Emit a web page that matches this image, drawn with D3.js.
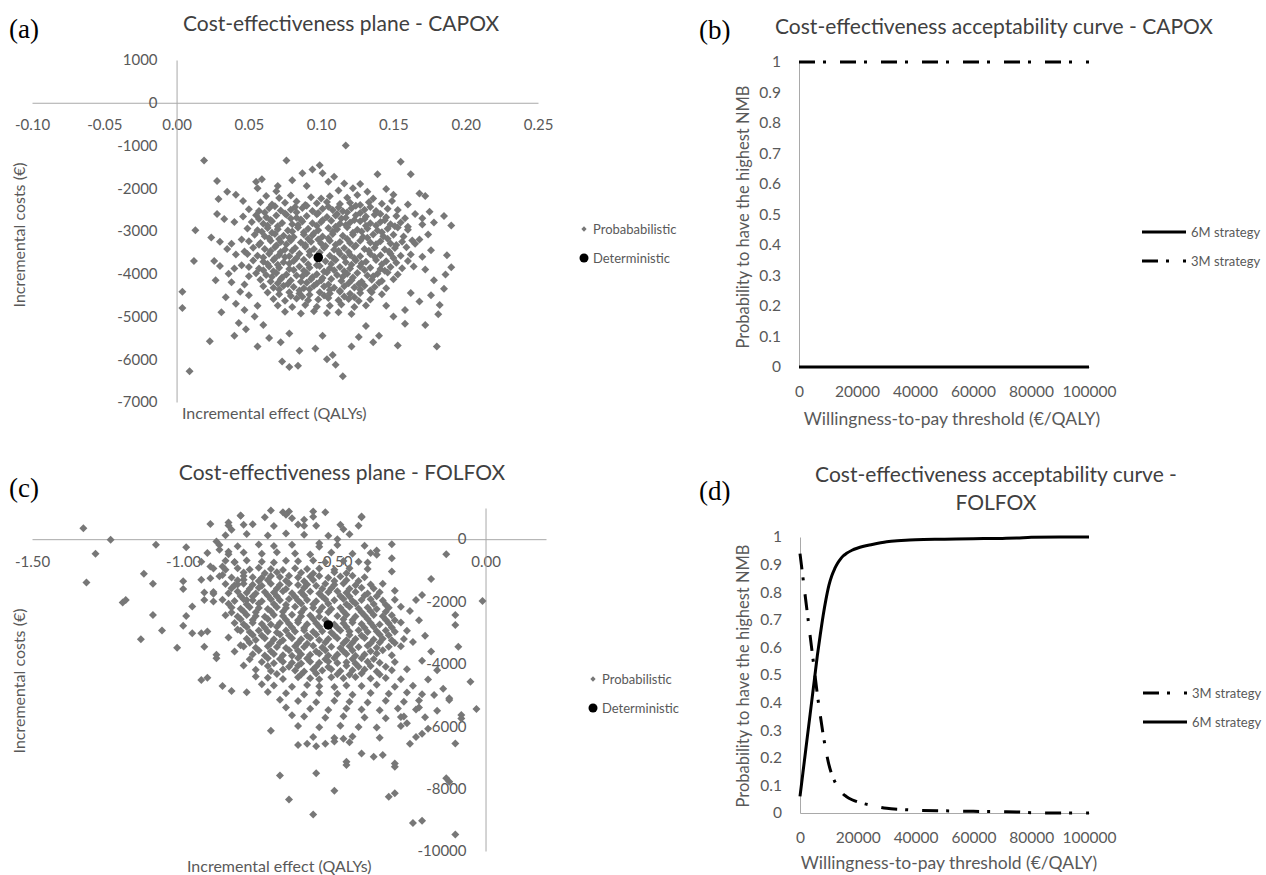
<!DOCTYPE html>
<html lang="en">
<head>
<meta charset="utf-8">
<title>Cost-effectiveness planes and acceptability curves</title>
<script src="https://cdn.jsdelivr.net/npm/d3@7"></script>
<style>
body { margin: 0; background: #fff; }
text { font-family: Lato, "Open Sans", sans-serif; }
</style>
</head>
<body>
<script>

var width = 1266;
var height = 875;

// ---- data ----

// (a) CAPOX: probabilistic iterations [incremental QALYs, incremental cost]
var capoxPsa = [
  [0.117,-1000],[0.019,-1350],[0.076,-1350],[0.155,-1380],[0.094,-1560],[0.099,-1460],[0.101,-1650],[0.109,-1730],
  [0.105,-1850],[0.087,-1650],[0.080,-1810],[0.059,-1790],[0.055,-1850],[0.028,-1830],[0.139,-1670],[0.162,-1670],
  [0.116,-1890],[0.122,-2000],[0.127,-1900],[0.056,-2000],[0.070,-1950],[0.035,-2080],[0.041,-2150],[0.029,-2250],
  [0.046,-2300],[0.069,-2070],[0.090,-1950],[0.112,-2050],[0.132,-2080],[0.145,-2020],[0.150,-2150],[0.168,-2120],
  [0.172,-2180],[0.149,-2300],[0.160,-2380],[0.190,-2870],[0.175,-2550],[0.185,-2650],[0.170,-2700],[0.178,-2800],
  [0.165,-2600],[0.028,-2600],[0.033,-2720],[0.040,-2790],[0.024,-3150],[0.030,-3250],[0.038,-3300],[0.045,-3200],
  [0.035,-3420],[0.041,-3550],[0.047,-3480],[0.026,-3700],[0.030,-3820],[0.040,-3880],[0.045,-3800],[0.036,-4000],
  [0.050,-4060],[0.027,-4150],[0.038,-4200],[0.047,-4250],[0.044,-4420],[0.034,-4550],[0.050,-4500],[0.041,-4700],
  [0.031,-4900],[0.047,-4850],[0.056,-4750],[0.054,-5000],[0.043,-5150],[0.013,-2980],[0.012,-3700],[0.004,-4420],
  [0.004,-4800],[0.009,-6280],[0.023,-5580],[0.040,-5450],[0.048,-5300],[0.060,-5200],[0.064,-5500],[0.056,-5700],
  [0.072,-5600],[0.078,-5400],[0.085,-5800],[0.073,-6050],[0.078,-6180],[0.084,-6150],[0.096,-5750],[0.101,-5450],
  [0.108,-5900],[0.110,-6130],[0.115,-6400],[0.104,-6000],[0.121,-5700],[0.126,-5480],[0.131,-5220],[0.136,-5600],
  [0.140,-5450],[0.153,-5680],[0.158,-5170],[0.172,-5200],[0.180,-5700],[0.181,-4950],[0.186,-4020],[0.187,-3570],
  [0.190,-3850],[0.185,-4350],[0.178,-4150],[0.172,-3900],[0.170,-3600],[0.176,-3450],[0.168,-3200],[0.174,-3080],
  [0.165,-3300],[0.162,-4450],[0.168,-4650],[0.158,-4850],[0.150,-5000],[0.145,-4750],[0.176,-4500],[0.182,-4730],
  [0.160,-2900],[0.170,-2850],
  [0.062,-2180],[0.071,-2230],[0.079,-2170],[0.093,-2210],[0.100,-2240],[0.106,-2190],[0.118,-2220],[0.125,-2160],[0.136,-2240],
  [0.058,-2330],[0.066,-2380],[0.075,-2340],[0.083,-2310],[0.089,-2390],[0.097,-2350],[0.104,-2320],[0.113,-2370],[0.120,-2340],
  [0.127,-2390],[0.133,-2330],[0.142,-2360],
  [0.050,-2490],[0.057,-2530],[0.064,-2470],[0.072,-2520],[0.079,-2500],[0.087,-2460],[0.094,-2530],[0.101,-2480],[0.108,-2510],
  [0.115,-2540],[0.121,-2470],[0.130,-2500],[0.138,-2530],[0.146,-2480],[0.153,-2510],
  [0.046,-2660],[0.055,-2630],[0.062,-2680],[0.069,-2640],[0.076,-2620],[0.083,-2690],[0.090,-2650],[0.097,-2610],[0.104,-2670],
  [0.110,-2640],[0.117,-2690],[0.124,-2630],[0.131,-2660],[0.137,-2620],[0.145,-2680],[0.152,-2650],[0.158,-2700],
  [0.052,-2790],[0.060,-2830],[0.066,-2770],[0.073,-2810],[0.080,-2840],[0.087,-2780],[0.094,-2820],[0.100,-2790],[0.107,-2760],
  [0.113,-2830],[0.120,-2800],[0.127,-2770],[0.134,-2820],[0.141,-2790],[0.148,-2840],[0.155,-2800],
  [0.049,-2940],[0.056,-2980],[0.063,-2930],[0.070,-2960],[0.077,-2990],[0.084,-2920],[0.091,-2950],[0.098,-2980],[0.105,-2930],
  [0.111,-2960],[0.118,-2910],[0.125,-2970],[0.132,-2940],[0.139,-2990],[0.146,-2950],[0.153,-2920],[0.160,-2970],
  [0.054,-3090],[0.061,-3120],[0.068,-3070],[0.074,-3110],[0.081,-3140],[0.088,-3080],[0.094,-3100],[0.101,-3130],[0.108,-3070],
  [0.115,-3110],[0.122,-3090],[0.129,-3140],[0.136,-3080],[0.143,-3120],[0.150,-3090],[0.157,-3130],
  [0.050,-3240],[0.058,-3280],[0.065,-3230],[0.072,-3260],[0.079,-3220],[0.086,-3270],[0.093,-3250],[0.100,-3290],[0.106,-3230],
  [0.113,-3260],[0.120,-3280],[0.127,-3230],[0.134,-3270],[0.141,-3240],[0.148,-3290],[0.156,-3250],[0.163,-3220],
  [0.053,-3390],[0.061,-3420],[0.068,-3380],[0.075,-3430],[0.082,-3400],[0.089,-3370],[0.095,-3420],[0.102,-3390],[0.109,-3440],
  [0.116,-3400],[0.123,-3370],[0.130,-3420],[0.137,-3390],[0.144,-3430],[0.151,-3400],[0.159,-3380],
  [0.049,-3540],[0.056,-3580],[0.064,-3530],[0.071,-3560],[0.078,-3590],[0.085,-3530],[0.092,-3560],[0.106,-3580],[0.113,-3530],
  [0.120,-3560],[0.127,-3590],[0.134,-3540],[0.141,-3570],[0.148,-3530],[0.155,-3580],[0.162,-3550],
  [0.053,-3690],[0.060,-3720],[0.067,-3680],[0.074,-3730],[0.081,-3700],[0.088,-3670],[0.103,-3710],[0.110,-3680],[0.117,-3730],
  [0.124,-3690],[0.131,-3720],[0.138,-3680],[0.145,-3710],[0.152,-3740],[0.160,-3700],
  [0.050,-3840],[0.057,-3880],[0.064,-3830],[0.071,-3860],[0.078,-3890],[0.085,-3830],[0.092,-3860],[0.099,-3820],[0.106,-3870],
  [0.113,-3840],[0.120,-3880],[0.127,-3830],[0.134,-3860],[0.141,-3890],[0.148,-3840],[0.156,-3870],[0.164,-3830],
  [0.055,-3990],[0.062,-4030],[0.069,-3980],[0.076,-4020],[0.083,-4040],[0.090,-3990],[0.097,-4010],[0.104,-3970],[0.111,-4030],
  [0.118,-4000],[0.125,-3980],[0.132,-4040],[0.139,-4000],[0.146,-3970],[0.153,-4020],
  [0.058,-4140],[0.065,-4180],[0.072,-4130],[0.079,-4160],[0.086,-4190],[0.093,-4130],[0.100,-4160],[0.107,-4120],[0.114,-4170],
  [0.121,-4150],[0.128,-4190],[0.135,-4140],[0.142,-4170],[0.150,-4130],
  [0.060,-4290],[0.067,-4330],[0.074,-4280],[0.081,-4310],[0.088,-4340],[0.095,-4280],[0.102,-4300],[0.109,-4330],[0.116,-4290],
  [0.123,-4320],[0.130,-4280],[0.137,-4310],[0.145,-4340],
  [0.063,-4440],[0.071,-4480],[0.078,-4430],[0.085,-4460],[0.092,-4490],[0.099,-4430],[0.106,-4460],[0.113,-4420],[0.120,-4470],
  [0.127,-4450],[0.135,-4430],[0.142,-4480],
  [0.067,-4590],[0.075,-4630],[0.083,-4580],[0.091,-4620],[0.098,-4600],[0.105,-4570],[0.112,-4620],[0.119,-4590],[0.126,-4640],[0.134,-4600],
  [0.070,-4740],[0.080,-4780],[0.089,-4730],[0.097,-4770],[0.106,-4750],[0.114,-4720],[0.123,-4780],[0.131,-4740],
  [0.075,-4890],[0.086,-4930],[0.095,-4880],[0.104,-4920],[0.112,-4900],[0.121,-4940],
  // denser centre of the cloud
  [0.068,-2420],[0.082,-2440],[0.090,-2410],[0.105,-2430],[0.112,-2450],[0.124,-2410],[0.134,-2440],
  [0.061,-2570],[0.075,-2590],[0.083,-2560],[0.098,-2580],[0.111,-2600],[0.118,-2560],[0.127,-2580],[0.141,-2600],
  [0.057,-2720],[0.065,-2740],[0.079,-2710],[0.086,-2730],[0.101,-2750],[0.114,-2710],[0.123,-2740],[0.130,-2720],[0.144,-2750],
  [0.063,-2870],[0.070,-2890],[0.084,-2860],[0.097,-2880],[0.110,-2900],[0.117,-2860],[0.131,-2880],[0.138,-2870],[0.151,-2890],
  [0.059,-3020],[0.066,-3040],[0.080,-3010],[0.088,-3030],[0.095,-3050],[0.108,-3020],[0.122,-3040],[0.128,-3010],[0.142,-3030],
  [0.064,-3170],[0.071,-3190],[0.078,-3160],[0.091,-3180],[0.098,-3200],[0.105,-3170],[0.118,-3190],[0.132,-3160],[0.146,-3180],
  [0.057,-3320],[0.069,-3340],[0.076,-3310],[0.089,-3330],[0.103,-3350],[0.110,-3320],[0.124,-3340],[0.138,-3310],[0.152,-3330],
  [0.065,-3470],[0.072,-3490],[0.080,-3460],[0.092,-3480],[0.099,-3500],[0.112,-3470],[0.119,-3490],[0.133,-3460],[0.147,-3480],
  [0.060,-3620],[0.068,-3640],[0.075,-3610],[0.083,-3630],[0.109,-3650],[0.116,-3620],[0.123,-3640],[0.137,-3610],[0.150,-3630],
  [0.063,-3770],[0.070,-3790],[0.078,-3760],[0.091,-3780],[0.097,-3800],[0.107,-3770],[0.121,-3790],[0.128,-3760],[0.142,-3780],
  [0.060,-3920],[0.067,-3940],[0.081,-3910],[0.088,-3930],[0.102,-3950],[0.109,-3920],[0.116,-3940],[0.130,-3910],[0.144,-3930],
  [0.066,-4070],[0.073,-4090],[0.087,-4060],[0.094,-4080],[0.101,-4100],[0.115,-4070],[0.122,-4090],[0.136,-4060],
  [0.070,-4220],[0.077,-4240],[0.090,-4210],[0.097,-4230],[0.105,-4250],[0.119,-4220],[0.126,-4240],[0.140,-4210],
  [0.071,-4370],[0.085,-4390],[0.092,-4360],[0.106,-4380],[0.113,-4400],[0.127,-4370],[0.134,-4390],
  [0.079,-4520],[0.087,-4540],[0.102,-4510],[0.116,-4530],[0.123,-4550]
];
var capoxBase = [0.098, -3620];

// (c) FOLFOX: probabilistic iterations [incremental QALYs, incremental cost]
var folfoxPsa = [
  [-1.33,350],[-1.24,-20],[-1.29,-470],[-1.32,-1390],[-1.20,-2030],[-1.19,-1950],[-1.13,-1110],[-1.10,-1430],[-1.09,-180],
  [-1.10,-2430],[-1.07,-2930],[-1.14,-3210],[-1.02,-3480],[-0.99,-260],[-1.00,-1350],[-1.00,-1600],[-0.97,-2160],[-0.99,-2460],
  [-1.00,-2780],[-0.97,-3020],[-0.94,-3020],[-0.92,-2960],[-0.93,-3450],[-0.94,-4520],[-0.92,-4440],[-0.87,-4710],[-0.84,-4870],
  [-0.79,-4910],[-0.89,-3710],[-0.89,-3820],
  [-0.91,490],[-0.85,535],[-0.84,300],[-0.81,750],[-0.80,460],[-0.89,-75],[-0.88,-340],[-0.85,-400],[-0.94,-720],[-0.91,-880],
  [-0.87,-880],[-0.83,-740],[-0.94,-1300],[-0.91,-1250],[-0.87,-1145],[-0.93,-1710],[-0.90,-1750],[-0.93,-1950],[-0.90,-2000],
  [-0.71,920],[-0.67,860],[-0.65,890],[-0.57,890],[-0.53,860],[-0.41,730],[-0.42,430],[-0.47,320],[-0.49,0],[-0.55,-130],
  [-0.60,430],[-0.60,620],[-0.64,670],
  [-0.31,-160],[-0.13,-480],[-0.31,-610],[-0.36,-360],[-0.36,-500],[-0.39,-750],[-0.31,-1040],[-0.18,-1280],[-0.30,-1650],
  [-0.23,-1950],[-0.21,-1790],[-0.10,-2430],[-0.01,-1980],[-0.10,-2750],[-0.09,-3450],[-0.05,-4570],[-0.03,-5450],[-0.08,-5640],
  [-0.08,-5750],[-0.12,-5160],[-0.10,-6550],[-0.13,-7670],[-0.12,-7780],
  [-0.25,-2300],[-0.22,-2600],[-0.20,-3100],[-0.24,-3300],[-0.18,-3600],[-0.21,-3900],[-0.16,-4200],[-0.19,-4500],[-0.14,-4800],
  [-0.17,-5000],[-0.22,-5400],
  [-0.30,-8150],[-0.32,-8260],[-0.21,-9030],[-0.24,-9100],[-0.10,-9470],[-0.46,-7240],[-0.46,-7140],[-0.50,-8070],[-0.56,-7510],
  [-0.57,-8830],[-0.65,-8350],[-0.68,-7580],[-0.71,-6140],[-0.30,-7300],[-0.30,-7190],[-0.41,-6870],[-0.37,-6980],[-0.34,-6920],
  [-0.62,-6600],[-0.59,-6560],[-0.56,-6640],[-0.53,-6560],[-0.50,-6490],[-0.47,-6400],[-0.45,-6510],[-0.25,-6560],[-0.23,-6340],
  [-0.21,-6240],[-0.19,-6080],[-0.28,-5700],[-0.26,-5900],[-0.16,-5500],[-0.12,-5100],
  [-0.82,-1450],[-0.80,-1300],[-0.79,-1950],[-0.84,-2350],[-0.82,-2900],[-0.85,-3150],[-0.81,-3400],[-0.83,-3600],[-0.78,-3850],
  [-0.80,-4050],[-0.76,-4400],[-0.74,-4650],[-0.72,-4900],[-0.68,-5150],[-0.66,-5400],[-0.64,-5650],
  [-0.81,760],[-0.73,700],[-0.66,780],[-0.57,720],[-0.41,700],
  [-0.85,440],[-0.77,480],[-0.70,420],[-0.62,470],[-0.56,430],[-0.48,460],
  [-0.86,130],[-0.79,170],[-0.72,120],[-0.66,180],[-0.60,140],[-0.52,110],[-0.45,160],
  [-0.88,-190],[-0.82,-230],[-0.75,-170],[-0.70,-220],[-0.64,-180],[-0.55,-240],[-0.49,-190],[-0.40,-210],
  [-0.92,-440],[-0.85,-480],[-0.80,-430],[-0.74,-470],[-0.69,-420],[-0.63,-460],[-0.58,-490],[-0.51,-430],[-0.44,-470],[-0.38,-440],
  [-0.86,-690],[-0.83,-730],[-0.79,-680],[-0.74,-720],[-0.70,-750],[-0.66,-690],[-0.62,-710],[-0.57,-680],[-0.53,-740],[-0.47,-700],[-0.42,-720],
  [-0.90,-940],[-0.86,-980],[-0.82,-930],[-0.78,-970],[-0.75,-920],[-0.71,-960],[-0.67,-990],[-0.63,-930],[-0.59,-960],[-0.55,-940],
  [-0.50,-980],[-0.45,-930],[-0.39,-960],
  [-0.88,-1190],[-0.84,-1230],[-0.80,-1180],[-0.77,-1220],[-0.74,-1240],[-0.71,-1180],[-0.68,-1210],[-0.65,-1170],[-0.62,-1230],
  [-0.58,-1200],[-0.55,-1180],[-0.52,-1240],[-0.48,-1200],[-0.44,-1170],[-0.40,-1220],
  [-0.86,-1440],[-0.83,-1480],[-0.80,-1430],[-0.77,-1460],[-0.74,-1490],[-0.71,-1430],[-0.68,-1460],[-0.65,-1420],[-0.62,-1470],
  [-0.59,-1450],[-0.56,-1490],[-0.53,-1430],[-0.50,-1460],[-0.47,-1420],[-0.43,-1480],[-0.38,-1450],[-0.34,-1430],
  [-0.90,-1690],[-0.85,-1730],[-0.82,-1680],[-0.79,-1720],[-0.76,-1740],[-0.73,-1690],[-0.70,-1710],[-0.67,-1670],[-0.64,-1730],
  [-0.61,-1700],[-0.58,-1680],[-0.55,-1740],[-0.52,-1700],[-0.49,-1670],[-0.46,-1720],[-0.43,-1690],[-0.39,-1740],[-0.35,-1700],
  [-0.87,-1940],[-0.83,-1980],[-0.80,-1930],[-0.77,-1960],[-0.74,-1990],[-0.71,-1930],[-0.68,-1960],[-0.65,-1920],[-0.62,-1970],
  [-0.59,-1950],[-0.56,-1990],[-0.53,-1930],[-0.50,-1960],[-0.47,-1920],[-0.44,-1980],[-0.41,-1950],[-0.38,-1930],[-0.34,-1970],[-0.30,-1940],
  [-0.84,-2190],[-0.81,-2230],[-0.78,-2180],[-0.75,-2210],[-0.72,-2240],[-0.69,-2180],[-0.66,-2210],[-0.63,-2170],[-0.60,-2230],
  [-0.57,-2200],[-0.54,-2180],[-0.51,-2240],[-0.48,-2200],[-0.45,-2170],[-0.42,-2220],[-0.39,-2190],[-0.36,-2240],[-0.32,-2200],[-0.28,-2170],
  [-0.86,-2440],[-0.82,-2480],[-0.79,-2430],[-0.76,-2460],[-0.73,-2490],[-0.70,-2430],[-0.67,-2460],[-0.64,-2420],[-0.61,-2470],
  [-0.58,-2450],[-0.55,-2490],[-0.49,-2460],[-0.46,-2420],[-0.43,-2480],[-0.40,-2450],[-0.37,-2430],[-0.34,-2470],[-0.31,-2440],
  [-0.83,-2690],[-0.80,-2730],[-0.77,-2680],[-0.74,-2720],[-0.71,-2740],[-0.68,-2690],[-0.65,-2710],[-0.62,-2670],[-0.59,-2730],
  [-0.56,-2700],[-0.50,-2740],[-0.47,-2700],[-0.44,-2670],[-0.41,-2720],[-0.38,-2690],[-0.35,-2740],[-0.32,-2700],[-0.28,-2670],
  [-0.81,-2940],[-0.78,-2980],[-0.75,-2930],[-0.72,-2960],[-0.69,-2990],[-0.66,-2930],[-0.63,-2960],[-0.60,-2920],[-0.57,-2970],
  [-0.54,-2950],[-0.51,-2990],[-0.48,-2930],[-0.45,-2960],[-0.42,-2920],[-0.39,-2980],[-0.36,-2950],[-0.33,-2930],[-0.30,-2970],[-0.26,-2940],
  [-0.79,-3190],[-0.76,-3230],[-0.73,-3180],[-0.70,-3210],[-0.67,-3240],[-0.64,-3180],[-0.61,-3210],[-0.58,-3170],[-0.55,-3230],
  [-0.52,-3200],[-0.49,-3180],[-0.46,-3240],[-0.43,-3200],[-0.40,-3170],[-0.37,-3220],[-0.34,-3190],[-0.31,-3240],[-0.27,-3200],
  [-0.80,-3440],[-0.76,-3480],[-0.72,-3430],[-0.69,-3460],[-0.66,-3490],[-0.63,-3430],[-0.60,-3460],[-0.57,-3420],[-0.54,-3470],
  [-0.51,-3450],[-0.48,-3490],[-0.45,-3430],[-0.42,-3460],[-0.39,-3420],[-0.36,-3480],[-0.32,-3450],[-0.28,-3430],
  [-0.77,-3690],[-0.73,-3730],[-0.70,-3680],[-0.67,-3720],[-0.64,-3740],[-0.61,-3690],[-0.58,-3710],[-0.55,-3670],[-0.52,-3730],
  [-0.49,-3700],[-0.46,-3680],[-0.43,-3740],[-0.40,-3700],[-0.36,-3670],[-0.31,-3720],
  [-0.74,-3940],[-0.70,-3980],[-0.67,-3930],[-0.64,-3960],[-0.61,-3990],[-0.58,-3930],[-0.55,-3960],[-0.52,-3920],[-0.49,-3970],
  [-0.46,-3950],[-0.43,-3990],[-0.39,-3930],[-0.35,-3960],[-0.30,-3940],
  [-0.76,-4190],[-0.71,-4230],[-0.67,-4180],[-0.63,-4210],[-0.60,-4240],[-0.57,-4180],[-0.54,-4210],[-0.51,-4170],[-0.48,-4230],
  [-0.44,-4200],[-0.40,-4180],[-0.36,-4240],[-0.31,-4200],[-0.26,-4170],
  [-0.72,-4440],[-0.67,-4480],[-0.62,-4430],[-0.58,-4460],[-0.55,-4490],[-0.51,-4430],[-0.47,-4460],[-0.43,-4420],[-0.38,-4470],
  [-0.33,-4450],[-0.28,-4490],
  [-0.70,-4690],[-0.64,-4730],[-0.59,-4680],[-0.55,-4720],[-0.50,-4740],[-0.46,-4690],[-0.41,-4710],[-0.36,-4670],[-0.30,-4730],[-0.24,-4700],
  [-0.66,-4940],[-0.60,-4980],[-0.55,-4930],[-0.49,-4960],[-0.44,-4990],[-0.38,-4930],[-0.32,-4960],[-0.26,-4920],[-0.21,-4970],
  [-0.62,-5190],[-0.56,-5230],[-0.50,-5180],[-0.45,-5210],[-0.39,-5240],[-0.33,-5180],[-0.27,-5210],[-0.22,-5170],
  [-0.58,-5440],[-0.52,-5480],[-0.46,-5430],[-0.41,-5460],[-0.35,-5490],[-0.29,-5430],[-0.23,-5460],
  [-0.60,-5690],[-0.53,-5730],[-0.47,-5680],[-0.40,-5720],[-0.33,-5740],[-0.27,-5690],[-0.20,-5710],
  [-0.62,-5990],[-0.55,-6030],[-0.48,-5980],[-0.42,-6020],[-0.36,-6040],[-0.28,-5990],
  [-0.57,-6340],[-0.50,-6380],[-0.44,-6330],[-0.35,-6370],
  // denser centre of the cloud
  [-0.80,-1070],[-0.73,-1090],[-0.69,-1060],[-0.61,-1080],[-0.57,-1100],[-0.50,-1060],[-0.46,-1090],
  [-0.82,-1320],[-0.75,-1340],[-0.72,-1310],[-0.66,-1330],[-0.60,-1350],[-0.57,-1310],[-0.50,-1340],[-0.46,-1320],[-0.42,-1340],
  [-0.84,-1570],[-0.78,-1590],[-0.75,-1560],[-0.69,-1580],[-0.66,-1600],[-0.60,-1560],[-0.54,-1590],[-0.51,-1570],[-0.45,-1590],[-0.41,-1560],[-0.37,-1580],
  [-0.81,-1820],[-0.77,-1840],[-0.72,-1810],[-0.69,-1830],[-0.63,-1850],[-0.60,-1810],[-0.54,-1840],[-0.48,-1820],[-0.45,-1840],[-0.40,-1810],[-0.36,-1830],
  [-0.85,-2070],[-0.79,-2090],[-0.75,-2060],[-0.70,-2080],[-0.66,-2100],[-0.61,-2060],[-0.57,-2090],[-0.52,-2070],[-0.46,-2090],[-0.43,-2060],[-0.37,-2080],[-0.33,-2100],
  [-0.80,-2320],[-0.76,-2340],[-0.71,-2310],[-0.67,-2330],[-0.61,-2350],[-0.55,-2310],[-0.52,-2340],[-0.47,-2320],[-0.41,-2340],[-0.38,-2310],[-0.33,-2330],
  [-0.81,-2570],[-0.77,-2590],[-0.72,-2560],[-0.66,-2580],[-0.62,-2600],[-0.57,-2560],[-0.53,-2590],[-0.47,-2570],[-0.44,-2590],[-0.39,-2560],[-0.33,-2580],[-0.30,-2600],
  [-0.79,-2820],[-0.73,-2840],[-0.69,-2810],[-0.64,-2830],[-0.60,-2850],[-0.55,-2810],[-0.49,-2840],[-0.46,-2820],[-0.40,-2840],[-0.37,-2810],[-0.31,-2830],
  [-0.77,-3070],[-0.74,-3090],[-0.68,-3060],[-0.65,-3080],[-0.59,-3100],[-0.56,-3060],[-0.50,-3090],[-0.45,-3070],[-0.41,-3090],[-0.35,-3060],[-0.32,-3080],
  [-0.78,-3320],[-0.71,-3340],[-0.68,-3310],[-0.62,-3330],[-0.59,-3350],[-0.53,-3310],[-0.47,-3340],[-0.44,-3320],[-0.38,-3340],[-0.35,-3310],[-0.30,-3330],
  [-0.75,-3570],[-0.71,-3590],[-0.65,-3560],[-0.62,-3580],[-0.56,-3600],[-0.53,-3560],[-0.47,-3590],[-0.44,-3570],[-0.38,-3590],[-0.34,-3560],
  [-0.72,-3820],[-0.68,-3840],[-0.62,-3810],[-0.59,-3830],[-0.53,-3850],[-0.50,-3810],[-0.44,-3840],[-0.41,-3820],[-0.37,-3840],
  [-0.72,-4070],[-0.65,-4090],[-0.62,-4060],[-0.56,-4080],[-0.52,-4100],[-0.46,-4060],[-0.42,-4090],[-0.38,-4070],[-0.33,-4090],
  [-0.69,-4320],[-0.61,-4340],[-0.56,-4310],[-0.49,-4330],[-0.45,-4350],[-0.41,-4310],[-0.35,-4340]
];
var folfoxBase = [-0.52, -2750];

// (b) CAPOX acceptability curve
var capoxWtp = [0, 10000, 20000, 30000, 40000, 50000, 60000, 70000, 80000, 90000, 100000];
var capox6M = [0, 0, 0, 0, 0, 0, 0, 0, 0, 0, 0];
var capox3M = [1, 1, 1, 1, 1, 1, 1, 1, 1, 1, 1];

// (d) FOLFOX acceptability curve
var folfoxWtp = [0, 1000, 2000, 3000, 4000, 5000, 6000, 7000, 8000, 9000, 10000, 11000, 12000, 13000, 14000,
                 15000, 16000, 18000, 20000, 25000, 30000, 35000, 40000, 50000, 60000, 70000, 75000, 80000, 90000, 100000];
var folfox6M = [0.06, 0.145, 0.23, 0.315, 0.40, 0.485, 0.57, 0.645, 0.715, 0.775, 0.825, 0.86, 0.885, 0.905, 0.92,
                0.932, 0.94, 0.952, 0.96, 0.973, 0.983, 0.987, 0.99, 0.992, 0.994, 0.995, 0.996, 0.999, 1, 1];
var folfox3M = [0.94, 0.855, 0.77, 0.685, 0.60, 0.515, 0.43, 0.355, 0.285, 0.225, 0.175, 0.14, 0.115, 0.095, 0.08,
                0.068, 0.06, 0.048, 0.04, 0.027, 0.017, 0.013, 0.01, 0.008, 0.006, 0.005, 0.004, 0.001, 0, 0];

var planeXTicksA = [-0.10, -0.05, 0, 0.05, 0.10, 0.15, 0.20, 0.25];
var planeYTicksA = [1000, 0, -1000, -2000, -3000, -4000, -5000, -6000, -7000];
var planeXTicksC = [-1.5, -1.0, -0.5, 0];
var planeYTicksC = [0, -2000, -4000, -6000, -8000, -10000];
var ceacXTicks = [0, 20000, 40000, 60000, 80000, 100000];
var ceacYTicks = [0, 0.1, 0.2, 0.3, 0.4, 0.5, 0.6, 0.7, 0.8, 0.9, 1];

// ---- drawing ----

var axisGrey = "#a9a9a9";
var labelGrey = "#595959";
var titleGrey = "#404040";
var pointGrey = "#777777";
var dashDot = "16,8,3,14";

var svg = d3.select("body").append("svg")
            .attr("width", width)
            .attr("height", height);

svg.append("rect").attr("width", width).attr("height", height).attr("fill", "#fff");

function styleAxis(a, size) {
  a.select(".domain").attr("stroke", axisGrey);
  a.selectAll("text").attr("fill", labelGrey).style("font-size", size + "px");
}

function panelLetter(txt, x, y) {
  svg.append("text")
     .attr("x", x).attr("y", y).attr("dy", "0.35em")
     .style("font-family", "'Liberation Serif', 'DejaVu Serif', serif")
     .style("font-size", "27px")
     .attr("fill", "#000")
     .text(txt);
}

function title(lines, cx, y) {
  var t = svg.append("text")
             .attr("text-anchor", "middle")
             .attr("fill", titleGrey)
             .style("font-size", "21px");
  lines.forEach(function(l, i) {
    t.append("tspan").attr("x", cx).attr("y", y + i * 28).attr("dy", "0.35em").text(l);
  });
}

function axisTitle(txt, x, y, rotate, anchor, size) {
  svg.append("text")
     .attr("transform", "translate(" + x + "," + y + ")" + (rotate ? " rotate(-90)" : ""))
     .attr("text-anchor", anchor)
     .attr("dy", "0.35em")
     .attr("fill", labelGrey)
     .style("font-size", size + "px")
     .text(txt);
}

function drawPlane(o) {
  var x = d3.scaleLinear().domain(o.xDomain).range(o.xRange);
  var y = d3.scaleLinear().domain(o.yDomain).range(o.yRange);
  var g = svg.append("g");

  var xa = g.append("g")
            .attr("transform", "translate(0," + y(0) + ")")
            .call(d3.axisBottom(x).tickValues(o.xTicks)
                    .tickFormat(function(d) { return d.toFixed(2); })
                    .tickSize(0).tickPadding(17));
  var ya = g.append("g")
            .attr("transform", "translate(" + x(0) + ",0)")
            .call(d3.axisLeft(y).tickValues(o.yTicks)
                    .tickFormat(function(d) { return String(d); })
                    .tickSize(0).tickPadding(19));
  styleAxis(xa, 15);
  styleAxis(ya, 15);

  var diamond = d3.symbol().type(d3.symbolSquare).size(32);
  g.append("g").selectAll("path")
   .data(o.points)
   .enter()
   .append("path")
   .attr("d", diamond)
   .attr("transform", function(d) { return "translate(" + x(d[0]) + "," + y(d[1]) + ") rotate(45)"; })
   .attr("fill", pointGrey);

  g.append("circle")
   .attr("cx", x(o.base[0])).attr("cy", y(o.base[1])).attr("r", 4.8)
   .attr("fill", "#000");

  // legend
  var lg = svg.append("g").attr("transform", "translate(" + o.legend[0] + "," + o.legend[1] + ")");
  lg.append("path").attr("d", d3.symbol().type(d3.symbolSquare).size(14))
    .attr("transform", "rotate(45)").attr("fill", pointGrey);
  lg.append("circle").attr("cy", 29).attr("r", 4.5).attr("fill", "#000");
  lg.selectAll("text")
    .data(o.legendLabels)
    .enter()
    .append("text")
    .attr("x", 9).attr("y", function(d, i) { return i * 29; }).attr("dy", "0.35em")
    .attr("fill", labelGrey)
    .style("font-size", "13px")
    .text(function(d) { return d; });
}

function drawCeac(o) {
  var x = d3.scaleLinear().domain([0, 100000]).range(o.xRange);
  var y = d3.scaleLinear().domain([0, 1]).range(o.yRange);
  var g = svg.append("g");

  var xa = g.append("g")
            .attr("transform", "translate(0," + o.yRange[0] + ")")
            .call(d3.axisBottom(x).tickValues(ceacXTicks)
                    .tickFormat(function(d) { return String(d); })
                    .tickSize(0).tickPadding(19));
  var ya = g.append("g")
            .attr("transform", "translate(" + o.xRange[0] + ",0)")
            .call(d3.axisLeft(y).tickValues(ceacYTicks)
                    .tickFormat(function(d) { return (d === 0 || d === 1) ? String(d) : d.toFixed(1); })
                    .tickSize(0).tickPadding(18));
  styleAxis(xa, 15.5);
  styleAxis(ya, 15.5);

  var line = d3.line()
               .x(function(d) { return x(d[0]); })
               .y(function(d) { return y(d[1]); })
               .curve(d3.curveMonotoneX);

  o.series.forEach(function(s) {
    g.append("path")
     .datum(o.wtp.map(function(w, i) { return [w, s.values[i]]; }))
     .attr("d", line)
     .attr("fill", "none")
     .attr("stroke", "#000")
     .attr("stroke-width", 3)
     .attr("stroke-dasharray", s.dashed ? dashDot : null);
  });

  var lg = svg.append("g").attr("transform", "translate(" + o.legend[0] + "," + o.legend[1] + ")");
  var items = lg.selectAll("g")
                .data(o.legendOrder)
                .enter()
                .append("g")
                .attr("transform", function(d, i) { return "translate(0," + i * 29 + ")"; });
  items.append("line")
       .attr("x1", 0).attr("x2", 44)
       .attr("stroke", "#000").attr("stroke-width", 3)
       .attr("stroke-dasharray", function(d) { return d.dashed ? dashDot : null; });
  items.append("text")
       .attr("x", 49).attr("dy", "0.35em")
       .attr("fill", labelGrey)
       .style("font-size", "13px")
       .text(function(d) { return d.name; });
}

// panel (a)
panelLetter("(a)", 9, 29);
title(["Cost-effectiveness plane - CAPOX"], 341, 24);
drawPlane({
  xDomain: [-0.10, 0.25], xRange: [32, 538],
  yDomain: [-7000, 1000], yRange: [402, 60],
  xTicks: planeXTicksA, yTicks: planeYTicksA,
  points: capoxPsa, base: capoxBase,
  legend: [584, 229], legendLabels: ["Probababilistic", "Deterministic"]
});
axisTitle("Incremental costs (€)", 19, 235, true, "middle", 16);
axisTitle("Incremental effect (QALYs)", 182, 413, false, "start", 16);

// panel (b)
panelLetter("(b)", 699, 30);
title(["Cost-effectiveness acceptability curve - CAPOX"], 994, 27);
var s6 = { name: "6M strategy", dashed: false };
var s3 = { name: "3M strategy", dashed: true };
drawCeac({
  xRange: [799, 1089], yRange: [367, 62],
  wtp: capoxWtp,
  series: [{ values: capox3M, dashed: true }, { values: capox6M, dashed: false }],
  legend: [1142, 232], legendOrder: [s6, s3]
});
axisTitle("Probability to have the highest NMB", 743, 217, true, "middle", 16.5);
axisTitle("Willingness-to-pay threshold (€/QALY)", 952, 419, false, "middle", 17.5);

// panel (c)
panelLetter("(c)", 9, 488);
title(["Cost-effectiveness plane - FOLFOX"], 342, 473);
drawPlane({
  xDomain: [-1.5, 0.2], xRange: [32, 546],
  yDomain: [-10000, 1000], yRange: [851, 508],
  xTicks: planeXTicksC, yTicks: planeYTicksC,
  points: folfoxPsa, base: folfoxBase,
  legend: [593, 679], legendLabels: ["Probabilistic", "Deterministic"]
});
axisTitle("Incremental costs (€)", 19, 681, true, "middle", 16);
axisTitle("Incremental effect (QALYs)", 187, 866, false, "start", 16);

// panel (d)
panelLetter("(d)", 699, 491);
title(["Cost-effectiveness acceptability curve -", "FOLFOX"], 996, 475);
drawCeac({
  xRange: [800, 1089], yRange: [813, 537],
  wtp: folfoxWtp,
  series: [{ values: folfox3M, dashed: true }, { values: folfox6M, dashed: false }],
  legend: [1143, 693], legendOrder: [s3, s6]
});
axisTitle("Probability to have the highest NMB", 743, 676, true, "middle", 16.5);
axisTitle("Willingness-to-pay threshold (€/QALY)", 949, 863, false, "middle", 17.5);

</script>
</body>
</html>
